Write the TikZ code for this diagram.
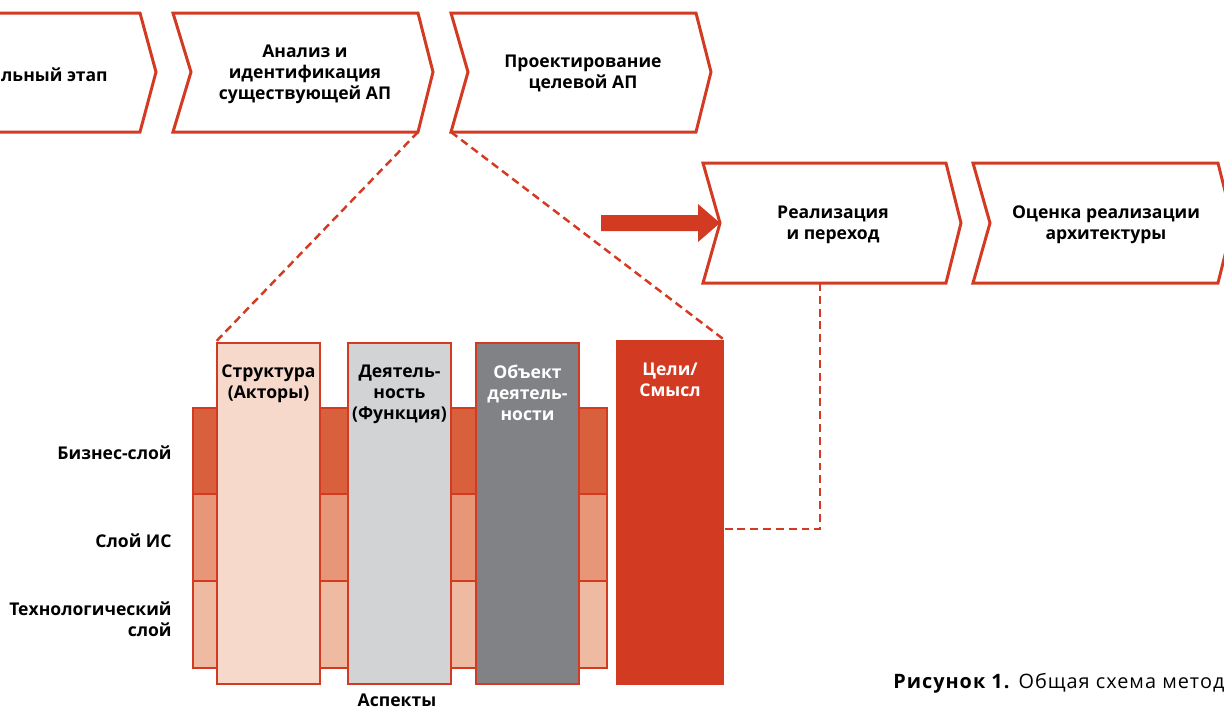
\documentclass[tikz,border=0pt]{standalone}
\usepackage{fontspec}
\setmainfont{Open Sans}
\usetikzlibrary{arrows.meta,positioning}
\definecolor{redc}{HTML}{D33A22}
\definecolor{bizc}{HTML}{D9603C}
\definecolor{isc}{HTML}{E79678}
\definecolor{techc}{HTML}{EEBAA2}
\definecolor{structc}{HTML}{F6D9CB}
\definecolor{funcc}{HTML}{D2D3D5}
\definecolor{objc}{HTML}{818286}

\begin{document}
\begin{tikzpicture}[x=0.02cm,y=-0.02cm,
  every node/.style={font=\fontsize{10}{11.9}\selectfont\bfseries, align=center, inner sep=0}]
\tikzset{
  chev/.style={draw=redc, line width=1.7pt, fill=white},
  layer/.style={draw=redc, line width=1.1pt},
  aspect/.style={draw=redc, line width=1.4pt, minimum width=2.06cm, minimum height=6.82cm},
  link/.style={redc, line width=1.4pt, dash pattern=on 4.5pt off 2.8pt},
}
\useasboundingbox (0,0) rectangle (1224,708);
\clip (0,0) rectangle (1224,708);

% phases, first row
\draw[chev] (-20,13) -- (140,13) -- (156,72) -- (140,132) -- (-20,132) -- cycle;
\draw[chev] (173,13) -- (418,13) -- (433,72) -- (418,132) coordinate (p2se) -- (173,132) -- (191,72) -- cycle;
\draw[chev] (451,13) -- (696,13) -- (711,72) -- (696,132) -- (451,132) coordinate (p3sw) -- (468,72) -- cycle;
\node[anchor=east] (p1) at (108,75) {льный этап};
\node (p2) at (305,74) {Анализ и\\идентификация\\существующей АП};
\node (p3) at (583,73) {Проектирование\\целевой АП};

% phases, second row
\draw[chev] (703,163) -- (946,163) -- (961,223) -- (946,283) -- (703,283) -- (720,223) coordinate (p4w) -- cycle;
\draw[chev] (973,163) -- (1218,163) -- (1233,223) -- (1218,283) -- (973,283) -- (990,223) -- cycle;
\node (p4) at (833,225) {Реализация\\и переход};
\node (p5) at (1106,225) {Оценка реализации\\архитектуры};
\coordinate (p4s) at (820,283);
% block arrow into the transition phase
\fill[redc] (p4w) -- ++(-22,-19) -- ++(0,11) -- ++(-97,0) -- ++(0,16) -- ++(97,0) -- ++(0,11) -- cycle;

% layers
\foreach \yt/\yb/\lc in {408/494/bizc, 494/581/isc, 581/668/techc}
  \draw[layer, fill=\lc] (193,\yt) rectangle (607,\yb);
\node[anchor=east] (l1) at (172,453) {Бизнес-слой};
\node[anchor=east] (l2) at (172,541) {Слой ИС};
\node[anchor=east, align=right] (l3) at (172,619) {Технологический\\слой};

% aspects
\node[aspect, fill=structc] (col1) at (268.5,513.5) {};
\node[aspect, fill=funcc] (col2) at (399.5,513.5) {};
\node[aspect, fill=objc] (col3) at (527.5,513.5) {};
\node[aspect, fill=redc, minimum width=2.12cm, minimum height=6.86cm] (col4) at (670,512.5) {};
\node[below=0.46cm of col1.north] (t1) {Структура\\(Акторы)};
\node[below=0.46cm of col2.north] (t2) {Деятель-\\ность\\(Функция)};
\node[below=0.46cm of col3.north, white] (t3) {Объект\\деятель-\\ности};
\node[below=0.46cm of col4.north, white] (t4) {Цели/\\Смысл};
\node (asp) at (397,700) {Аспекты};

% zoom lines
\draw[link] (p2se) -- (col1.north west);
\draw[link] (p3sw) -- (col4.north east);
\coordinate (bend) at (820,529);
\draw[link] (p4s) -- (bend) -- (col4.east |- bend);

\node[anchor=west, font=\fontsize{11.3}{13}\selectfont\addfontfeatures{LetterSpace=5}] (cap) at (893,683) {\textbf{Рисунок 1.} Общая схема метод};
\end{tikzpicture}
\end{document}
